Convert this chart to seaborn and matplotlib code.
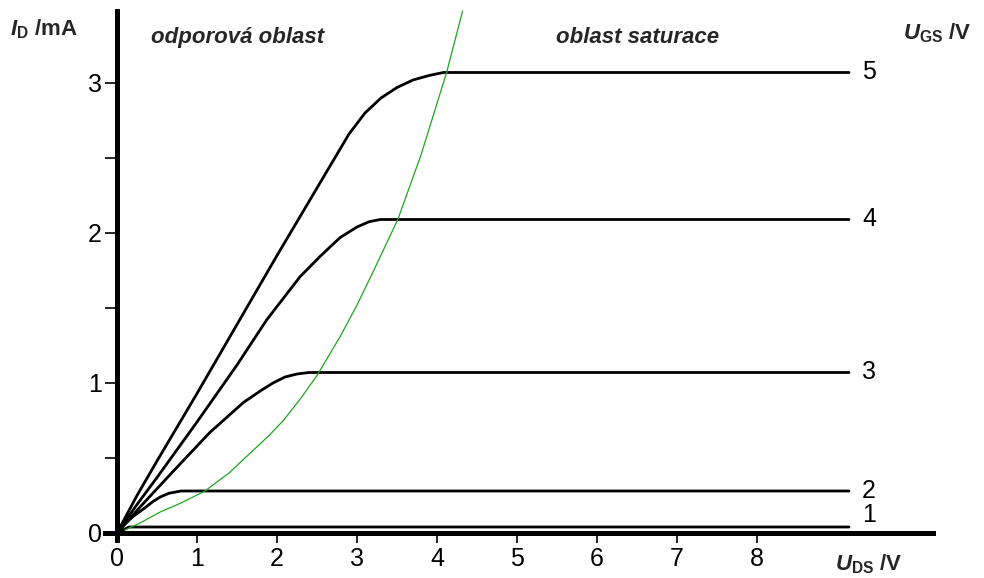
import numpy as np
import pandas as pd
import matplotlib
matplotlib.use("Agg")
import matplotlib.pyplot as plt
import seaborn as sns

# ---- data ----
ugs_labels = ["5", "4", "3", "2", "1"]
v_ugs5 = [0, 0.25, 0.5, 1.0, 1.5, 2.0, 2.5, 2.9, 3.1, 3.3, 3.5, 3.7, 3.9, 4.08, 9.15]
i_ugs5 = [0, 0.25, 0.48, 0.93, 1.39, 1.85, 2.3, 2.66, 2.8, 2.9, 2.97, 3.02, 3.05, 3.07, 3.07]
v_ugs4 = [0, 0.25, 0.5, 1.0, 1.5, 1.87, 2.29, 2.55, 2.79, 3.0, 3.15, 3.29, 9.15]
i_ugs4 = [0, 0.19, 0.37, 0.74, 1.12, 1.42, 1.71, 1.85, 1.97, 2.04, 2.075, 2.09, 2.09]
v_ugs3 = [0, 0.3, 0.7, 1.16, 1.58, 1.8, 1.95, 2.1, 2.25, 2.4, 9.15]
i_ugs3 = [0, 0.18, 0.41, 0.67, 0.87, 0.95, 1.0, 1.04, 1.06, 1.07, 1.07]
v_ugs2 = [0, 0.1, 0.2, 0.33, 0.45, 0.54, 0.65, 0.8, 9.15]
i_ugs2 = [0, 0.06, 0.11, 0.16, 0.21, 0.24, 0.265, 0.28, 0.28]
v_ugs1 = [0, 0.15, 9.15]
i_ugs1 = [0, 0.04, 0.04]
v_limit = [0.1, 0.3, 0.54, 0.8, 1.1, 1.4, 1.66, 1.9, 2.08, 2.3, 2.5, 2.79, 3.0,
           3.2, 3.51, 3.8, 4.12, 4.32]
i_limit = [0.02, 0.07, 0.14, 0.2, 0.28, 0.4, 0.53, 0.65, 0.75, 0.9, 1.05, 1.31,
           1.52, 1.74, 2.09, 2.52, 3.07, 3.48]
x_ticks = [0, 1, 2, 3, 4, 5, 6, 7, 8]
y_ticks = [0, 0.5, 1, 1.5, 2, 2.5, 3]
y_ticklabels = ["0", "", "1", "", "2", "", "3"]

curves = [(v_ugs5, i_ugs5), (v_ugs4, i_ugs4), (v_ugs3, i_ugs3),
          (v_ugs2, i_ugs2), (v_ugs1, i_ugs1)]

sns.set_theme(style="white")
plt.rcParams["font.family"] = ["Liberation Sans", "DejaVu Sans"]
plt.rcParams["mathtext.fontset"] = "custom"
plt.rcParams["mathtext.rm"] = "Liberation Sans:bold"
plt.rcParams["mathtext.it"] = "Liberation Sans:italic:bold"
plt.rcParams["mathtext.bf"] = "Liberation Sans:bold"

narrow = ["Liberation Sans Narrow", "Liberation Sans", "DejaVu Sans"]

fig = plt.figure(figsize=(9.84, 5.78), dpi=100)
ax = fig.add_axes([0, 0, 1, 1])
ax.set_facecolor("white")

for (v, i), lab in zip(curves, ugs_labels):
    df = pd.DataFrame({"U": v, "I": i})
    sns.lineplot(data=df, x="U", y="I", sort=False, color="black",
                 linewidth=2.0, ax=ax, estimator=None)
    ax.text(v[-1] + 0.25, i[-1] + (0.08 if lab == "1" else 0.0), lab,
            fontsize=18, ha="center", va="center", color="black",
            family=narrow)

sns.lineplot(x=v_limit, y=i_limit, sort=False, color="#1fa51f",
             linewidth=0.9, ax=ax, estimator=None)

ax.set_xlim(-1.4625, 10.8375)
ax.set_ylim(-0.3, 3.5533)

for s in ["top", "right"]:
    ax.spines[s].set_visible(False)
for s in ["left", "bottom"]:
    ax.spines[s].set_visible(True)
    ax.spines[s].set_color("black")
    ax.spines[s].set_linewidth(3.6)
    ax.spines[s].set_position(("data", 0))
ax.spines["left"].set_bounds(-0.05, 3.48)
ax.spines["bottom"].set_bounds(-0.15, 10.2)

ax.set_xticks(x_ticks)
ax.set_xticklabels([str(t) for t in x_ticks], family=narrow)
ax.set_yticks(y_ticks)
ax.set_yticklabels(y_ticklabels, family=narrow)
ax.tick_params(axis="x", direction="out", length=7, width=1.2, pad=3,
               labelsize=18, colors="black", bottom=True)
ax.tick_params(axis="y", direction="out", length=9, width=1.2, pad=2,
               labelsize=18, colors="black", left=True)
ax.set_xlabel("")
ax.set_ylabel("")

ax.text(-1.34, 3.36, r"$I_{\mathbf{D}}$ /mA", fontsize=16, ha="left",
        va="center", fontweight="bold")
ax.text(9.83, 3.33, r"$U_{\mathbf{GS}}$ /V", fontsize=16, ha="left",
        va="center", fontweight="bold")
ax.text(8.98, -0.287, r"$U_{\mathbf{DS}}$ /V", fontsize=16, ha="left",
        va="bottom", fontweight="bold")
ax.text(0.42, 3.30, "odporová oblast", fontsize=16, fontweight="bold",
        fontstyle="italic", ha="left", va="center")
ax.text(5.49, 3.30, "oblast saturace", fontsize=16, fontweight="bold",
        fontstyle="italic", ha="left", va="center")

fig.savefig("out.png", dpi=100, facecolor="white")
